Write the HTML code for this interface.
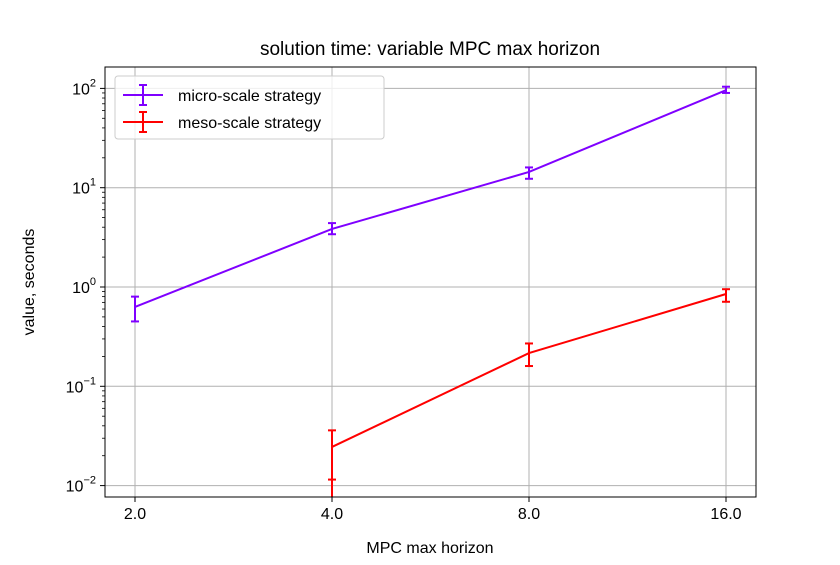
<!DOCTYPE html>
<html><head><meta charset="utf-8"><style>
body{margin:0;background:#fff}
svg{font-family:"Liberation Sans","DejaVu Sans",sans-serif}
</style></head><body>
<svg id="c" width="840" height="560"></svg>
<script>
const categories=[2.0,4.0,8.0,16.0];
const tickLabels=["2.0","4.0","8.0","16.0"];
const microValues=[0.63,3.84,14.4,96];
const microLow=[0.45,3.4,12.3,90];
const microHigh=[0.8,4.4,16,104];
const microBarEnd=[0.45,3.4,12.3,90];
const mesoValues=[null,0.0245,0.216,0.85];
const mesoLow=[null,0.0115,0.16,0.71];
const mesoHigh=[null,0.036,0.27,0.95];
const mesoBarEnd=[null,0,0.16,0.71];
const yTicks=[-2,-1,0,1,2];

const L=105,R=756,T=67,B=497;
const sx=v=>135+(Math.log2(v)-1)*197;
const sy=v=>287-Math.log10(v)*99.3;
const svg=document.getElementById('c');
const NS='http://www.w3.org/2000/svg';
function mk(tag,attrs,parent){const e=document.createElementNS(NS,tag);for(const k in attrs)e.setAttribute(k,attrs[k]);(parent||svg).appendChild(e);return e;}

const defs=mk('defs',{});
const cp=mk('clipPath',{id:'clip'},defs);
mk('rect',{x:L,y:T,width:R-L,height:B-T},cp);

categories.forEach((c,i)=>{
  const g=mk('line',{x1:sx(c),x2:sx(c),y1:T,y2:B,stroke:'#b0b0b0','stroke-width':1});
  
  
  const t=mk('line',{x1:sx(c),x2:sx(c),y1:B,y2:B+5,stroke:'#000'});
  
  
  const tx=mk('text',{x:sx(c),y:B+22,'font-size':16,'text-anchor':'middle'});
  tx.textContent=tickLabels[i];
  
  
});
yTicks.forEach(p=>{
  const y=sy(Math.pow(10,p));
  const g=mk('line',{x1:L,x2:R,y1:y,y2:y,stroke:'#b0b0b0','stroke-width':1});
  
  
  const t=mk('line',{x1:L-5,x2:L,y1:y,y2:y,stroke:'#000'});
  
  
  const tx=mk('text',{x:L-9,y:y+6,'font-size':16,'text-anchor':'end'});
  tx.innerHTML='10<tspan dy="-8" font-size="11">'+(p<0?'\u2212'+(-p):p)+'</tspan>';
  
  
  for(let m=2;m<10;m++){
    const ym=sy(m*Math.pow(10,p));
    if(ym>T&&ym<B){const mt=mk('line',{x1:L-3,x2:L,y1:ym,y2:ym,stroke:'#000','stroke-width':0.8});
    
    }
  }
});

function series(vals,lo,hi,end,color,name){
  const g=mk('g',{'clip-path':'url(#clip)'});
  
  
  let d='';
  vals.forEach((v,i)=>{if(v!=null){d+=(d?'L':'M')+sx(categories[i])+' '+sy(v);}});
  const p=mk('path',{d:d,fill:'none',stroke:color,'stroke-width':2},g);
  
  
  vals.forEach((v,i)=>{
    if(v==null)return;
    const x=sx(categories[i]);
    const eb=mk('g',{},g);
    
    
    const yb=end[i]>0?sy(end[i]):B+20;
    mk('line',{x1:x,x2:x,y1:sy(hi[i]),y2:yb,stroke:color,'stroke-width':2},eb);
    mk('line',{x1:x-4,x2:x+4,y1:sy(hi[i]),y2:sy(hi[i]),stroke:color,'stroke-width':2},eb);
    mk('line',{x1:x-4,x2:x+4,y1:sy(lo[i]),y2:sy(lo[i]),stroke:color,'stroke-width':2},eb);
  });
}
series(microValues,microLow,microHigh,microBarEnd,'#7f00ff','micro-series');
series(mesoValues,mesoLow,mesoHigh,mesoBarEnd,'#ff0000','meso-series');

const frame=mk('rect',{x:L,y:T,width:R-L,height:B-T,fill:'none',stroke:'#000','stroke-width':1});



const title=mk('text',{x:430,y:55,'font-size':19,'text-anchor':'middle'});
title.textContent='solution time: variable MPC max horizon';


const xl=mk('text',{x:430,y:553,'font-size':16,'text-anchor':'middle'});
xl.textContent='MPC max horizon';


const yl=mk('text',{x:0,y:0,'font-size':16,'text-anchor':'middle',transform:'translate(34 282) rotate(-90)'});
yl.textContent='value, seconds';



const lg=mk('g',{});


mk('rect',{x:115,y:76,width:269,height:63,rx:3,fill:'#fff','fill-opacity':0.8,stroke:'#ccc'},lg);
[['micro-scale strategy','#7f00ff',95],['meso-scale strategy','#ff0000',122]].forEach(([lab,col,y])=>{
  const e=mk('g',{},lg);
  
  
  mk('line',{x1:123,x2:163,y1:y,y2:y,stroke:col,'stroke-width':2},e);
  mk('line',{x1:143,x2:143,y1:y-10,y2:y+10,stroke:col,'stroke-width':2},e);
  mk('line',{x1:139,x2:147,y1:y-10,y2:y-10,stroke:col,'stroke-width':2},e);
  mk('line',{x1:139,x2:147,y1:y+10,y2:y+10,stroke:col,'stroke-width':2},e);
  const t=mk('text',{x:178,y:y+6,'font-size':16},e);
  t.textContent=lab;
});
</script>
</body></html>
